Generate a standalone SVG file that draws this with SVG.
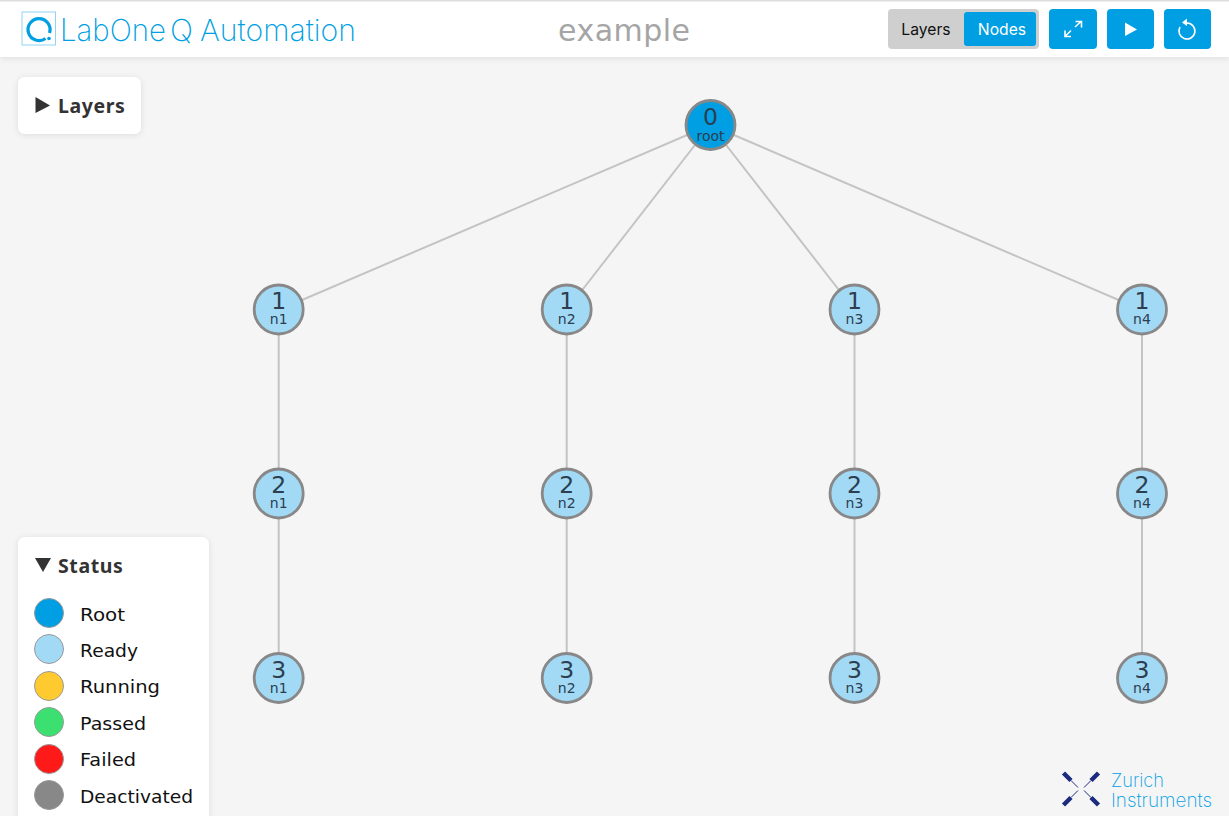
<svg xmlns="http://www.w3.org/2000/svg" width="1229" height="816" viewBox="0 0 1229 816">
<style>
.num{font:23.5px "DejaVu Sans",sans-serif;fill:#2c3e50;text-anchor:middle}
.sub{font:14px "DejaVu Sans",sans-serif;fill:#2c3e50;text-anchor:middle}
.ready{fill:#a2d9f5;stroke:#888;stroke-width:2.8}
.edge{stroke:#c4c4c4;stroke-width:2;fill:none}
.btn{fill:#009fe3}
.ico{fill:none;stroke:#fff;stroke-width:1.6}
.leg{font:18.5px "DejaVu Sans",sans-serif;fill:#111}
.head{font:bold 19.5px "Noto Sans",sans-serif;fill:#333;letter-spacing:.6px}
.dot{stroke:#999;stroke-width:1}
.logo{fill:#009fe3;font-family:Inter,sans-serif;font-weight:200}
</style>
<defs>
<filter id="sh" x="-20%" y="-20%" width="140%" height="140%"><feDropShadow dx="0" dy="1" stdDeviation="3" flood-color="#000" flood-opacity=".1"/></filter>
</defs>
<rect width="1229" height="816" fill="#f5f5f5"/>
<g id="header">
<rect x="0" y="1" width="1229" height="56" fill="#fff" filter="url(#sh)"/>
<rect x="0" y="0" width="1229" height="1.500" fill="#ddd"/>
<rect x="22" y="12" width="33.500" height="33" fill="#fff" stroke="#8fd4f3" stroke-width="1"/>
<path d="M45.500 38.500A11 11 0 1 1 49.500 33" fill="none" stroke="#009fe3" stroke-width="3.200"/>
<circle cx="49" cy="38.500" r="1.800" fill="#009fe3"/>
<text class="logo" x="60" y="41" font-size="30.500" textLength="106" lengthAdjust="spacingAndGlyphs">LabOne</text>
<text class="logo" x="170" y="41" font-size="30.500" textLength="23" lengthAdjust="spacingAndGlyphs">Q</text>
<text class="logo" x="200" y="41" font-size="30" textLength="156" lengthAdjust="spacingAndGlyphs">Automation</text>
<text x="624" y="41" font-family="DejaVu Sans,sans-serif" font-size="30" fill="#a5a5a5" text-anchor="middle" textLength="132">example</text>
<rect x="888" y="9" width="151" height="40" rx="4" fill="#cfcfcf"/>
<rect x="964" y="12" width="72" height="34" rx="3" class="btn"/>
<text x="926" y="35" font-family="Inter,sans-serif" font-size="15.700" fill="#111" text-anchor="middle">Layers</text>
<text x="1002" y="35" font-family="Inter,sans-serif" font-size="15.700" fill="#fff" text-anchor="middle">Nodes</text>
<rect x="1049" y="9" width="48" height="40" rx="4" class="btn"/>
<rect x="1107" y="9" width="47" height="40" rx="4" class="btn"/>
<rect x="1164" y="9" width="47" height="40" rx="4" class="btn"/>
<path class="ico" d="M1065 36.500L1071 30.500M1075 27L1081 21.500M1075.500 21.500H1081.500V27.500M1065 30.500V36.500H1071"/>
<path d="M1125 22.500L1137 29.500L1125 36L1125 22.500Z" fill="#fff"/>
<path class="ico" d="M1187 23A8 8 0 1 1 1180 27"/>
<path d="M1187 18.500L1182 22.500L1187 26Z" fill="#fff"/>
</g>
<g id="layers-panel">
<rect x="18" y="77" width="123" height="57" rx="7" fill="#fff" filter="url(#sh)"/>
<path d="M35.500 97L50 105.500L35.500 113Z" fill="#333"/>
<text class="head" x="58" y="113">Layers</text>
</g>
<g id="connectors">
<path class="edge" d="M710.500 125L278.700 310M710.500 125L566.700 310M710.500 125L854.500 310M710.500 125L1142 310"/>
<path class="edge" d="M278.700 310V678M566.700 310V678M854.500 310V678M1142 310V678"/>
</g>
<g id="root"><circle cx="710.500" cy="125" r="24.500" fill="#009fe3" stroke="#888" stroke-width="2.800"/><text class="num" x="710.500" y="125">0</text><text class="sub" x="710.500" y="140.500">root</text></g>
<g id="n1-1"><circle class="ready" cx="278.700" cy="309.500" r="24.500"/><text class="num" x="278.700" y="309">1</text><text class="sub" x="278.700" y="324">n1</text></g>
<g id="n2-1"><circle class="ready" cx="566.700" cy="309.500" r="24.500"/><text class="num" x="566.700" y="309">1</text><text class="sub" x="566.700" y="324">n2</text></g>
<g id="n3-1"><circle class="ready" cx="854.500" cy="309.500" r="24.500"/><text class="num" x="854.500" y="309">1</text><text class="sub" x="854.500" y="324">n3</text></g>
<g id="n4-1"><circle class="ready" cx="1142" cy="309.500" r="24.500"/><text class="num" x="1142" y="309">1</text><text class="sub" x="1142" y="324">n4</text></g>
<g id="n1-2"><circle class="ready" cx="278.700" cy="493.500" r="24.500"/><text class="num" x="278.700" y="493">2</text><text class="sub" x="278.700" y="508">n1</text></g>
<g id="n2-2"><circle class="ready" cx="566.700" cy="493.500" r="24.500"/><text class="num" x="566.700" y="493">2</text><text class="sub" x="566.700" y="508">n2</text></g>
<g id="n3-2"><circle class="ready" cx="854.500" cy="493.500" r="24.500"/><text class="num" x="854.500" y="493">2</text><text class="sub" x="854.500" y="508">n3</text></g>
<g id="n4-2"><circle class="ready" cx="1142" cy="493.500" r="24.500"/><text class="num" x="1142" y="493">2</text><text class="sub" x="1142" y="508">n4</text></g>
<g id="n1-3"><circle class="ready" cx="278.700" cy="678" r="24.500"/><text class="num" x="278.700" y="678">3</text><text class="sub" x="278.700" y="693">n1</text></g>
<g id="n2-3"><circle class="ready" cx="566.700" cy="678" r="24.500"/><text class="num" x="566.700" y="678">3</text><text class="sub" x="566.700" y="693">n2</text></g>
<g id="n3-3"><circle class="ready" cx="854.500" cy="678" r="24.500"/><text class="num" x="854.500" y="678">3</text><text class="sub" x="854.500" y="693">n3</text></g>
<g id="n4-3"><circle class="ready" cx="1142" cy="678" r="24.500"/><text class="num" x="1142" y="678">3</text><text class="sub" x="1142" y="693">n4</text></g>
<g id="status-panel">
<rect x="18" y="537" width="191" height="290" rx="7" fill="#fff" filter="url(#sh)"/>
<path d="M35 558H51L43 572Z" fill="#333"/>
<text class="head" x="58" y="573">Status</text>
<circle class="dot" cx="49" cy="613" r="14.500" fill="#009fe3"/><text class="leg" x="80" y="620.500" textLength="45" lengthAdjust="spacingAndGlyphs">Root</text>
<circle class="dot" cx="49" cy="649" r="14.500" fill="#a2d9f5"/><text class="leg" x="80" y="656.500" textLength="58" lengthAdjust="spacingAndGlyphs">Ready</text>
<circle class="dot" cx="49" cy="686" r="14.500" fill="#ffca30"/><text class="leg" x="80" y="692.500" textLength="80" lengthAdjust="spacingAndGlyphs">Running</text>
<circle class="dot" cx="49" cy="722" r="14.500" fill="#3be070"/><text class="leg" x="80" y="729.500" textLength="66" lengthAdjust="spacingAndGlyphs">Passed</text>
<circle class="dot" cx="49" cy="759" r="14.500" fill="#ff1a1a"/><text class="leg" x="80" y="765.500" textLength="56" lengthAdjust="spacingAndGlyphs">Failed</text>
<circle class="dot" cx="49" cy="795" r="14.500" fill="#888"/><text class="leg" x="80" y="802.500" textLength="113" lengthAdjust="spacingAndGlyphs">Deactivated</text>
</g>
<g id="zi-logo">
<path d="M1063.500 773L1071 780.500M1098.500 773L1091 780.500M1063.500 805L1071 797.500M1098.500 805L1091 797.500" stroke="#1d2b7e" stroke-width="4.500" fill="none"/>
<path d="M1071 780.500L1078 787.500M1091 780.500L1084 787.500M1071 797.500L1078 790.500M1091 797.500L1084 790.500" stroke="#1d2b7e" stroke-width="1" fill="none"/>
<text class="logo" x="1111" y="787" font-size="19" textLength="53" lengthAdjust="spacingAndGlyphs">Zurich</text>
<text class="logo" x="1111" y="807" font-size="19" textLength="101" lengthAdjust="spacingAndGlyphs">Instruments</text>
</g>
</svg>
